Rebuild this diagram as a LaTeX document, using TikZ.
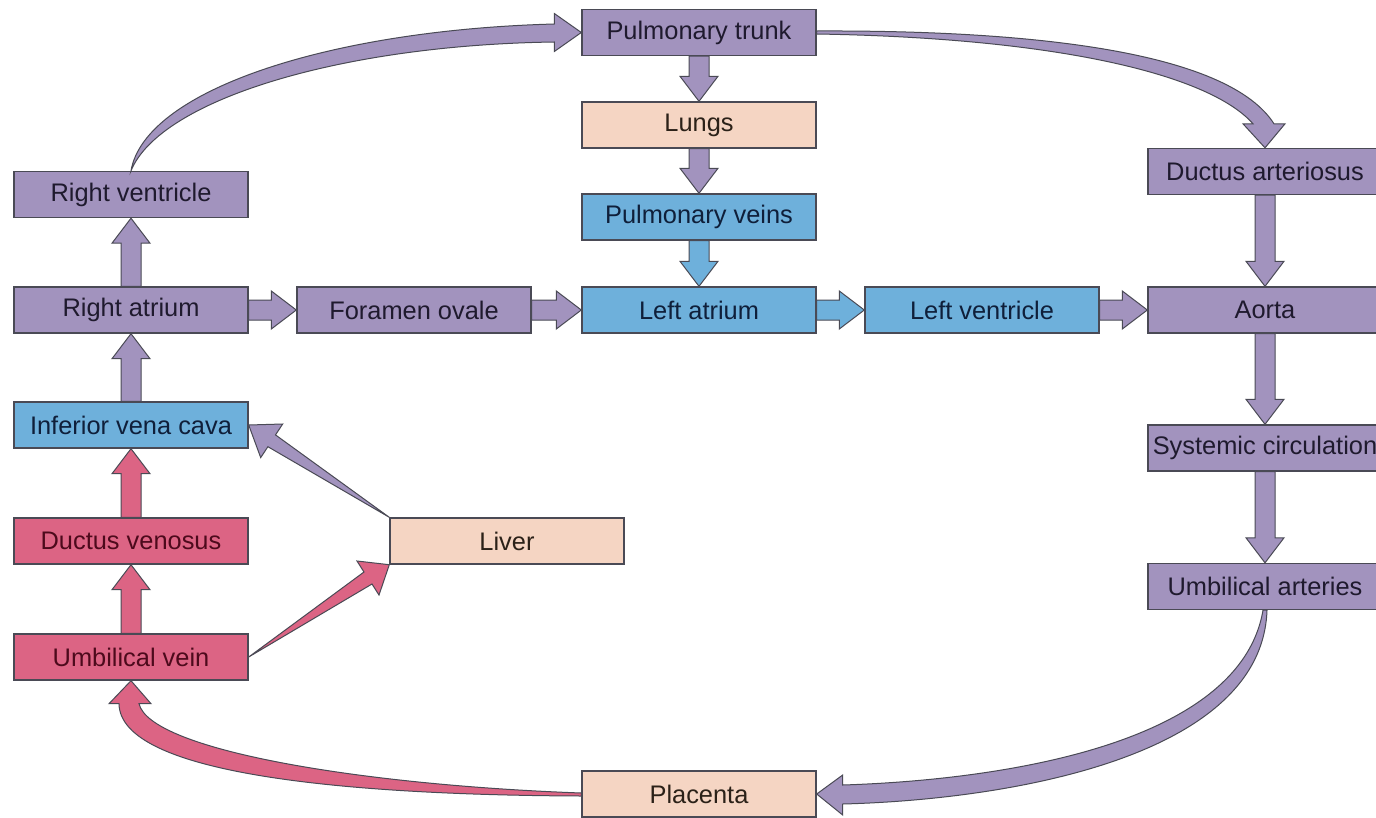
\documentclass[tikz,border=0pt]{standalone}
\usepackage{fontspec}
\setmainfont{Liberation Sans}
\usetikzlibrary{calc}
\definecolor{purp}{HTML}{A293BE}
\definecolor{blu}{HTML}{6EB0DB}
\definecolor{pnk}{HTML}{DC6484}
\definecolor{pch}{HTML}{F5D5C3}
\definecolor{edgec}{HTML}{4A4A55}
\definecolor{tpurp}{HTML}{1F1A2E}
\definecolor{tblu}{HTML}{0F1F3A}
\definecolor{tpnk}{HTML}{4D0A1C}
\definecolor{tpch}{HTML}{2B2118}
\tikzset{
  box/.style={draw=edgec, line width=1.4pt, minimum width=234pt, minimum height=46pt,
    inner sep=0pt, font=\fontsize{25.4}{30}\selectfont},
  pbox/.style={box, fill=purp, text=tpurp},
  bbox/.style={box, fill=blu, text=tblu},
  rbox/.style={box, fill=pnk, text=tpnk},
  cbox/.style={box, fill=pch, text=tpch},
  arr/.style={draw=edgec, line width=1pt, line join=miter},
}
\newcommand\barrow[3]{%
  \coordinate (bH) at ($(#3)!25pt!(#2)$);
  \draw[arr, fill=#1] ($(#2)!10pt!90:(#3)$) -- ($(bH)!10pt!90:(#3)$) -- ($(bH)!19pt!90:(#3)$)
    -- (#3) -- ($(bH)!19pt!-90:(#3)$) -- ($(bH)!10pt!-90:(#3)$) -- ($(#2)!10pt!-90:(#3)$) -- cycle;}
\begin{document}
\begin{tikzpicture}[x=1pt, y=-1pt]
\clip (0,0) rectangle (1376,817);
\fill[white] (0,0) rectangle (1376,817);
% nodes
\node[pbox] (pt)  at (699,32.5) {Pulmonary trunk};
\node[cbox] (lu)  at (699,125) {Lungs};
\node[bbox] (pv)  at (699,217) {Pulmonary veins};
\node[pbox] (rv)  at (131,194.5) {Right ventricle};
\node[pbox] (ra)  at (131,310) {Right atrium};
\node[pbox] (fo)  at (414,310) {Foramen ovale};
\node[bbox] (la)  at (699,310) {Left atrium};
\node[bbox] (lv)  at (982,310) {Left ventricle};
\node[pbox] (ao)  at (1265,310) {Aorta};
\node[pbox] (da)  at (1265,171.5) {Ductus arteriosus};
\node[pbox] (sc)  at (1265,448) {Systemic circulation};
\node[pbox] (ua)  at (1265,586.5) {Umbilical arteries};
\node[bbox] (ivc) at (131,425) {Inferior vena cava};
\node[rbox] (dv)  at (131,541) {Ductus venosus};
\node[cbox] (li)  at (507,541) {Liver};
\node[rbox] (uv)  at (131,657) {Umbilical vein};
\node[cbox] (plc) at (699,794) {Placenta};
% straight block arrows
\barrow{purp}{ra.north}{rv.south}
\barrow{purp}{ivc.north}{ra.south}
\barrow{pnk}{dv.north}{ivc.south}
\barrow{pnk}{uv.north}{dv.south}
\barrow{purp}{ra.east}{fo.west}
\barrow{purp}{fo.east}{la.west}
\barrow{purp}{pt.south}{lu.north}
\barrow{purp}{lu.south}{pv.north}
\barrow{blu}{pv.south}{la.north}
\barrow{blu}{la.east}{lv.west}
\barrow{purp}{lv.east}{ao.west}
\barrow{purp}{da.south}{ao.north}
\barrow{purp}{ao.south}{sc.north}
\barrow{purp}{sc.south}{ua.north}
% curved tapered arrows
\draw[arr, fill=purp] (rv.north) .. controls (145,90) and (330,30) .. ($(pt.west)+(-27,-8.5)$)
  -- ($(pt.west)+(-27,-19)$) -- (pt.west) -- ($(pt.west)+(-27,19)$) -- ($(pt.west)+(-27,9.5)$)
  .. controls (340,45) and (160,100) .. (rv.north) -- cycle;
\draw[arr, fill=purp] ($(pt.east)+(0,-1.5)$) .. controls (1050,30) and (1230,55) .. ($(da.north)+(9,-24)$)
  -- ($(da.north)+(20,-24)$) -- (da.north) -- ($(da.north)+(-22,-24)$) -- ($(da.north)+(-12,-24)$)
  .. controls (1210,75) and (1060,38) .. ($(pt.east)+(0,1.5)$) -- cycle;
\draw[arr, fill=purp] ($(ua.south)+(2,0)$) .. controls (1262,760) and (1000,800) .. ($(plc.east)+(26,10)$)
  -- ($(plc.east)+(26,21)$) -- (plc.east) -- ($(plc.east)+(26,-19)$) -- ($(plc.east)+(26,-9)$)
  .. controls (1000,780) and (1240,745) .. ($(ua.south)+(-2,0)$) -- cycle;
\draw[arr, fill=pnk] ($(plc.west)+(0,2)$) .. controls (350,795) and (120,775) .. ($(uv.south)+(-12,23)$)
  -- ($(uv.south)+(-22,23)$) -- (uv.south) -- ($(uv.south)+(20,23)$) -- ($(uv.south)+(8,23)$)
  .. controls (150,750) and (360,785) .. ($(plc.west)+(0,-1)$) -- cycle;
% liver arrows
\draw[arr, fill=purp] (li.north west) -- (275.5,434.9) -- (282.7,424) -- (ivc.east)
  -- (260.7,457.6) -- (267.9,446.7) -- cycle;
\draw[arr, fill=pnk] (uv.east) -- (364,572) -- (357,561) -- (li.south west)
  -- (379,595) -- (372,584) -- cycle;
\end{tikzpicture}
\end{document}
